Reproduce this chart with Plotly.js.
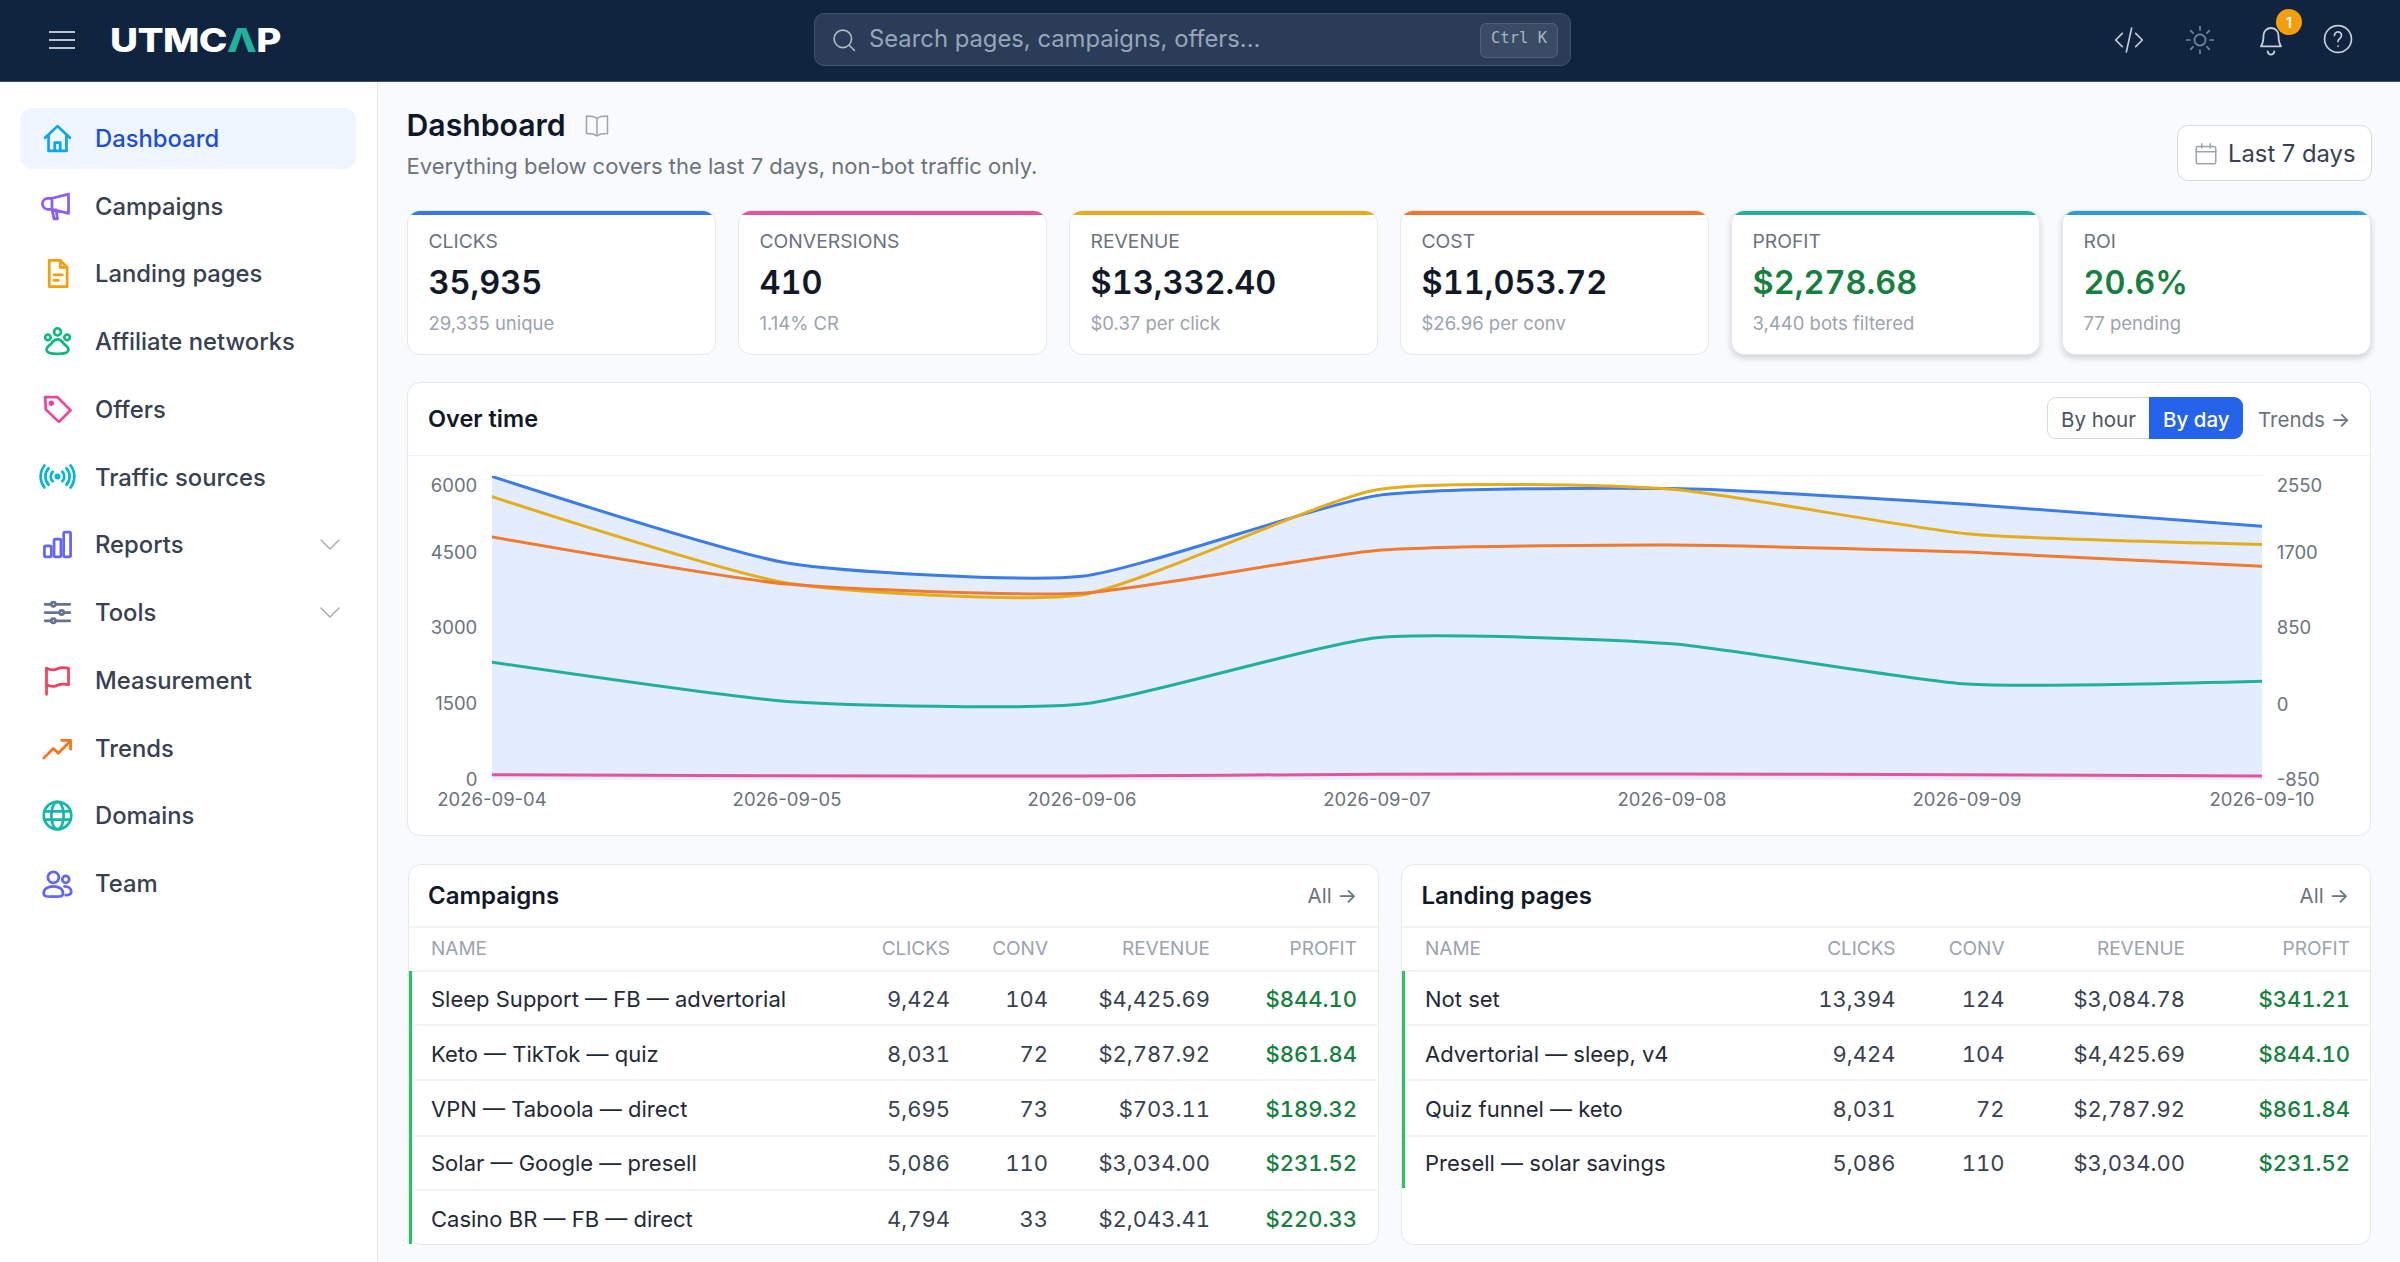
<!DOCTYPE html>
<html><head><meta charset="utf-8">
<script src="https://cdn.plot.ly/plotly-3.0.1.min.js"></script>
<style>
*{box-sizing:border-box}
html,body{margin:0;width:2400px;height:1262px;overflow:hidden;background:#f8fafc;font-family:Inter,"Noto Sans",sans-serif;color:#1f2937}
.a{position:absolute}
.t{position:absolute;white-space:nowrap;line-height:1;transform:translateY(-50%)}
.r{transform:translate(-100%,-50%)}
.n{font-variant-numeric:tabular-nums}
.card{position:absolute;background:#fff;border:1.5px solid #e5e9ef;border-radius:13px}
svg{position:absolute;overflow:visible;fill:none;stroke-linecap:round;stroke-linejoin:round}
</style></head><body>
<div class="a" style="left:0;top:0;width:2400px;height:82px;background:#10233f;border-bottom:1.5px solid #3c4e68"></div>
<div class="a" style="left:0;top:82px;width:378px;height:1180px;background:#fff;border-right:1.5px solid #e5e7eb"></div>
<div id="root"></div>
<div id="chart" class="a" style="left:409px;top:456px;width:1960px;height:378px"></div>
<script>
// ---- data ----
const days = ['2026-09-04','2026-09-05','2026-09-06','2026-09-07','2026-09-08','2026-09-09','2026-09-10'];
const clicks = [5990,4273,4007,5610,5750,5440,5000];
const conversions = [65,45,40,75,80,65,40];
const revenue = [2316,1345,1213,2395,2400,1900,1779];
const cost = [1863,1333,1231,1711,1772,1693,1534];
const profit = [453,12,-18,729,661,207,238];
const leftTicks = [0,1500,3000,4500,6000];
const rightTicks = [-850,0,850,1700,2550];
const navItems = ['Dashboard','Campaigns','Landing pages','Affiliate networks','Offers','Traffic sources','Reports','Tools','Measurement','Trends','Domains','Team'];
const kpiLabels = ['CLICKS','CONVERSIONS','REVENUE','COST','PROFIT','ROI'];
const kpiValues = ['35,935','410','$13,332.40','$11,053.72','$2,278.68','20.6%'];
const kpiNotes = ['29,335 unique','1.14% CR','$0.37 per click','$26.96 per conv','3,440 bots filtered','77 pending'];
const kpiColors = ['#3b78e7','#e0559b','#e3ad1e','#f0762b','#26ad9b','#2a9be0'];
const tableHead = ['NAME','CLICKS','CONV','REVENUE','PROFIT'];
const campaignNames = ['Sleep Support — FB — advertorial','Keto — TikTok — quiz','VPN — Taboola — direct','Solar — Google — presell','Casino BR — FB — direct'];
const campaignClicks = ['9,424','8,031','5,695','5,086','4,794'];
const campaignConv = ['104','72','73','110','33'];
const campaignRevenue = ['$4,425.69','$2,787.92','$703.11','$3,034.00','$2,043.41'];
const campaignProfit = ['$844.10','$861.84','$189.32','$231.52','$220.33'];
const landingNames = ['Not set','Advertorial — sleep, v4','Quiz funnel — keto','Presell — solar savings'];
const landingClicks = ['13,394','9,424','8,031','5,086'];
const landingConv = ['124','104','72','110'];
const landingRevenue = ['$3,084.78','$4,425.69','$2,787.92','$3,034.00'];
const landingProfit = ['$341.21','$844.10','$861.84','$231.52'];

const root = document.getElementById('root');
let html = '';
function text(s,x,y,size,color,weight,extra){
  html += `<div class="t${extra&&extra.right?' r':''}${extra&&extra.num?' n':''}" style="left:${x}px;top:${y+0.8}px;font-size:${size}px;color:${color};font-weight:${weight||400};${extra&&extra.css||''}">${s}</div>`;
}
function box(x,y,w,h,css){ html += `<div class="a" style="left:${x}px;top:${y}px;width:${w}px;height:${h}px;${css}"></div>`; }
function icon(x,y,size,color,body,sw){ // x,y = centre; 24-unit viewbox
  html += `<svg style="left:${x-size/2}px;top:${y-size/2}px" width="${size}" height="${size}" viewBox="0 0 24 24" stroke="${color}" stroke-width="${sw||1.8}">${body}</svg>`;
}
// top bar
[32,40,48].forEach(y=>box(49,y-1,26,2.2,'background:#b9c4d2'));
html += `<div class="t" style="left:110px;top:40px;font-size:33px;font-weight:800;color:#fff;letter-spacing:-.5px;transform:translateY(-50%) scaleX(1.17);transform-origin:left center">UTMC<span style="color:#20b2a0">Λ</span>P</div>`;
box(814,13,757,53,'background:#2a3c58;border:1.5px solid #41536e;border-radius:10px');
icon(844,40,28,'#aeb9c8','<circle cx="11" cy="11" r="7.5"/><path d="M16.5 16.5 21 21"/>',1.4);
text('Search pages, campaigns, offers...',869,38.5,23.8,'#97a5b8');
box(1480,23,78,35,'background:#3a4b66;border:1.5px solid #4f607a;border-radius:6px');
text('Ctrl K',1491,38.5,15.5,'#a9b4c3',400,{css:"font-family:'DejaVu Sans Mono',monospace;"});
icon(2129,40,32,'#c6d0dc','<path d="M7 7 2 12l5 5M17 7l5 5-5 5M14 3l-4 18"/>',1.2);
icon(2200,40,32,'#74849b','<circle cx="12" cy="12" r="4.2"/><path d="M12 2v2.5M12 19.5V22M2 12h2.5M19.5 12H22M5 5l1.8 1.8M17.2 17.2 19 19M5 19l1.8-1.8M17.2 6.8 19 5"/>',1.3);
icon(2271,38,40,'#c6d0dc','<path d="M6 17c1-1.5 1.5-3 1.5-6.5a4.5 4.5 0 0 1 9 0c0 3.500 .5 5 1.500 6.500zM10 20a2 2 0 0 0 4 0"/>',1.1);
box(2276,9,26,26,'background:#f59e0b;border-radius:50%');
text('1',2289,21.5,15,'#fff',600,{css:'transform:translate(-50%,-50%);'});
icon(2338,38.500,34,'#c6d0dc','<circle cx="12" cy="12" r="9.500"/><path d="M9.500 9.500a2.500 2.500 0 1 1 3.800 2.100c-.9.6-1.300 1.100-1.300 2.200M12 17v.1"/>',1.2);

// sidebar
box(20,108,336,61,'background:#eff6ff;border-radius:12px');
const navY=[138,206,273.500,341,409,476.700,544,612,680,748,815,883];
const navIcons=[
 ['#0ea5e9','<path d="M3 11.500 12 3l9 8.500M5.500 9.500V21h13V9.500M10 21v-6h4v6"/>'],
 ['#8b5cf6','<path d="M20 3v14L8 14H5a3 3 0 0 1 0-8h3zM8 6v8M8 14l1.500 7h2.500l-1-6.500"/>'],
 ['#f59e0b','<path d="M6 2.500h8l5 5V21.500H6zM14 2.500v5h5M9.500 13h6M9.500 17h3"/>'],
 ['#10b981','<circle cx="5" cy="9" r="2"/><circle cx="12" cy="5" r="2.500"/><circle cx="19" cy="9" r="2"/><path d="M12 10.500c-3 0-3.500 2-5 3.500s-3 2-3 4 2.500 3 8 3 8-1 8-3-1.500-2.500-3-4-2-3.500-5-3.500z"/>'],
 ['#ec4899','<path d="M3 3h9l9.500 9.500-8.500 8.500L3.500 12z"/><circle cx="7.500" cy="7.500" r="1"/>'],
 ['#06b6d4','<circle cx="12" cy="12" r="1.200"/><path d="M8.500 8.500a5 5 0 0 0 0 7M15.500 8.500a5 5 0 0 1 0 7M5.500 6a9 9 0 0 0 0 12M18.500 6a9 9 0 0 1 0 12M2.500 4a13 13 0 0 0 0 16M21.500 4a13 13 0 0 1 0 16"/>'],
 ['#6366f1','<rect x="2.500" y="13" width="5" height="8" rx="1"/><rect x="9.500" y="8" width="5" height="13" rx="1"/><rect x="16.500" y="3" width="5" height="18" rx="1"/>'],
 ['#64748b','<path d="M3 6h18M3 12h18M3 18h18"/><circle cx="9" cy="6" r="1.500" fill="#fff"/><circle cx="15" cy="12" r="1.500" fill="#fff"/><circle cx="9" cy="18" r="1.500" fill="#fff"/>'],
 ['#f43f5e','<path d="M4 22V3c3 1.500 6 1.500 8 .5s5-1 8-.5v12c-3-.5-6-.5-8 .5s-5 1-8-.5"/>'],
 ['#f97316','<path d="M2 19l7-7 3.500 3.500L21 7M15 6h6.500v6.500"/>'],
 ['#14b8a6','<circle cx="12" cy="12" r="10"/><ellipse cx="12" cy="12" rx="4.500" ry="10"/><path d="M2.500 9h19M2.500 15h19"/>'],
 ['#6366f1','<circle cx="9" cy="7.500" r="4"/><circle cx="18" cy="9" r="2.500"/><path d="M2 19c0-3 3-5 7-5s7 2 7 5-3 2.500-7 2.500-7 .5-7-2.500zM17 14c3 0 5 1.500 5 4s-2 2.500-4 2.500"/>']
];
navItems.forEach((n,i)=>{
  icon(57,navY[i],33,navIcons[i][0],navIcons[i][1],2);
  text(n,95,navY[i],23.800,i==0?'#1d4ed8':'#374151',500);
});
[544,612].forEach(y=>icon(330,y,24,'#9ca3af','<path d="M3 8l9 9 9-9"/>',1.200));

// page head
text('Dashboard',406.500,124,30.200,'#0f172a',600);
icon(597,126,28,'#9ca3af','<path d="M12 5.500C10 4 7 3.500 3 3.500v15c4 0 7 .5 9 2 2-1.500 5-2 9-2v-15c-4 0-7 .5-9 2zM12 5.500v15"/>',1.300);
text('Everything below covers the last 7 days, non-bot traffic only.',406.500,164.700,22,'#6b7280');
box(2176.500,125,195,56,'background:#fff;border:1.500px solid #d5dae1;border-radius:11px');
icon(2205.500,153.500,26,'#9ca3af','<rect x="3" y="5" width="18" height="16" rx="1.500"/><path d="M3 10h18M8 2.500v4M16 2.500v4"/>',1.400);
text('Last 7 days',2228,153,23.800,'#374151');

// KPI cards
kpiLabels.forEach((l,i)=>{
  const x=406.500+331*i;
  const shadow=i>=4?'box-shadow:0 3px 6px rgba(15,23,42,.18);':'';
  html+=`<div class="card" style="left:${x}px;top:210px;width:309px;height:145px;${shadow}overflow:hidden"><div class="a" style="left:-2px;right:-2px;top:-1px;height:4.500px;background:${kpiColors[i]}"></div></div>`;
  text(l,x+22,241,19.300,'#6b7280');
  text(kpiValues[i],x+22,281.700,32.500,i>=4?'#15803d':'#111827',600,{num:true});
  text(kpiNotes[i],x+22,321.700,18.500,'#9ca3af');
});

// over-time card
html+='<div class="card" style="left:407px;top:382px;width:1964px;height:454px"></div>';
box(408,454.500,1962,1.500,'background:#f1f3f6');
text('Over time',428,418,23.500,'#111827',600);
box(2047,397,196,42,'background:#fff;border:1.500px solid #d5dae1;border-radius:9px');
html+='<div class="a" style="left:2148.500px;top:397px;width:94.500px;height:42px;background:#2563eb;border-radius:0 9px 9px 0"></div>';
text('By hour',2061,419.500,20.500,'#4b5563');
text('By day',2163,419.500,20.500,'#fff',500);
text('Trends →',2258,419.500,20.500,'#6b7280');

// tables
function table(left,right,titleX,nameX,cols,barEnd,title,names,c1,c2,c3,c4){
  html+=`<div class="card" style="left:${left}px;top:864px;width:${right-left}px;height:381px"></div>`;
  text(title,titleX,894.700,24,'#111827',600);
  text('All →',right-22,894.700,20.500,'#6b7280',400,{right:true});
  box(left+1,926,right-left-2,1.500,'background:#f1f3f6');
  box(left+1,970,right-left-2,1.500,'background:#f1f3f6');
  tableHead.forEach((h,i)=>{
    if(i==0) text(h,nameX,947.300,19,'#9ca3af');
    else text(h,cols[i-1],947.300,19,'#9ca3af',400,{right:true});
  });
  box(left+1,970.500,3,barEnd-970.500,'background:#22c55e');
  const ys=[997.700,1052.700,1108.300,1162.300,1217.700], seps=[1024.300,1079.300,1135,1189];
  seps.slice(0,names.length-1).forEach(y=>box(left+4,y,right-left-6,1.500,'background:#f1f3f6'));
  const num={right:true,num:true};
  names.forEach((n,i)=>{
    text(n,nameX,ys[i],22,'#1f2937');
    text(c1[i],cols[0],ys[i],22,'#374151',400,num);
    text(c2[i],cols[1],ys[i],22,'#374151',400,num);
    text(c3[i],cols[2],ys[i],22,'#374151',400,num);
    text(c4[i],cols[3],ys[i],22,'#15803d',500,num);
  });
}
table(407.500,1379,428,431,[950,1048,1210,1357],1244,'Campaigns',campaignNames,campaignClicks,campaignConv,campaignRevenue,campaignProfit);
table(1401,2371,1421.500,1425,[1895.500,2004.500,2185,2350],1188,'Landing pages',landingNames,landingClicks,landingConv,landingRevenue,landingProfit);
root.innerHTML=html;

// chart
function trace(name,y,color,axis,extra){
  return Object.assign({type:'scatter',mode:'lines',name,x:days,y,yaxis:axis,hoverinfo:'skip',
    line:{color,width:3,shape:'spline',smoothing:0.55}},extra||{});
}
const data=[
  trace('Clicks',clicks,'#3b7ce6','y',{fill:'tozeroy',fillcolor:'rgba(59,130,246,0.14)'}),
  trace('Conversions',conversions,'#e0559b','y'),
  trace('Revenue',revenue,'#e3ad1e','y2'),
  trace('Cost',cost,'#ef7a30','y2'),
  trace('Profit',profit,'#20b09e','y2')
];
const tickFont={family:'Inter,sans-serif',size:18.500,color:'#6b7280'};
const layout={
  width:1960,height:378,margin:{l:83,r:107,t:20,b:56},
  paper_bgcolor:'rgba(0,0,0,0)',plot_bgcolor:'rgba(0,0,0,0)',showlegend:false,
  xaxis:{type:'date',range:[days[0],days[6]],tickvals:days,ticktext:days,tickfont:tickFont,showgrid:false,zeroline:false,
    showline:true,mirror:'allticks',linecolor:'#eef0f4',linewidth:1.500,ticks:'outside',ticklen:4,tickcolor:'rgba(0,0,0,0)'},
  yaxis:{range:[0,6000],tickvals:leftTicks,ticktext:leftTicks.map(String),tickfont:tickFont,showgrid:false,zeroline:false,
    ticks:'outside',ticklen:10,tickcolor:'rgba(0,0,0,0)'},
  yaxis2:{overlaying:'y',side:'right',range:[-850,2550],tickvals:rightTicks,ticktext:rightTicks.map(String),tickfont:tickFont,
    showgrid:false,zeroline:false,ticks:'outside',ticklen:10,tickcolor:'rgba(0,0,0,0)'}
};
// value-axis labels sit slightly low; the top label of each axis stays just inside the plot's top edge
function nudgeLabels(){
  document.querySelectorAll('#chart .ytick text, #chart .y2tick text').forEach(t=>{
    const top=t.textContent==='6000'||t.textContent==='2550';
    t.setAttribute('dy',top?'10':(t.textContent==='0'||t.textContent==='-850'?'2':'1'));
  });
}
Plotly.newPlot('chart',data,layout,{displayModeBar:false,staticPlot:true}).then(gd=>{nudgeLabels();gd.on('plotly_afterplot',nudgeLabels);});
</script>
</body></html>
